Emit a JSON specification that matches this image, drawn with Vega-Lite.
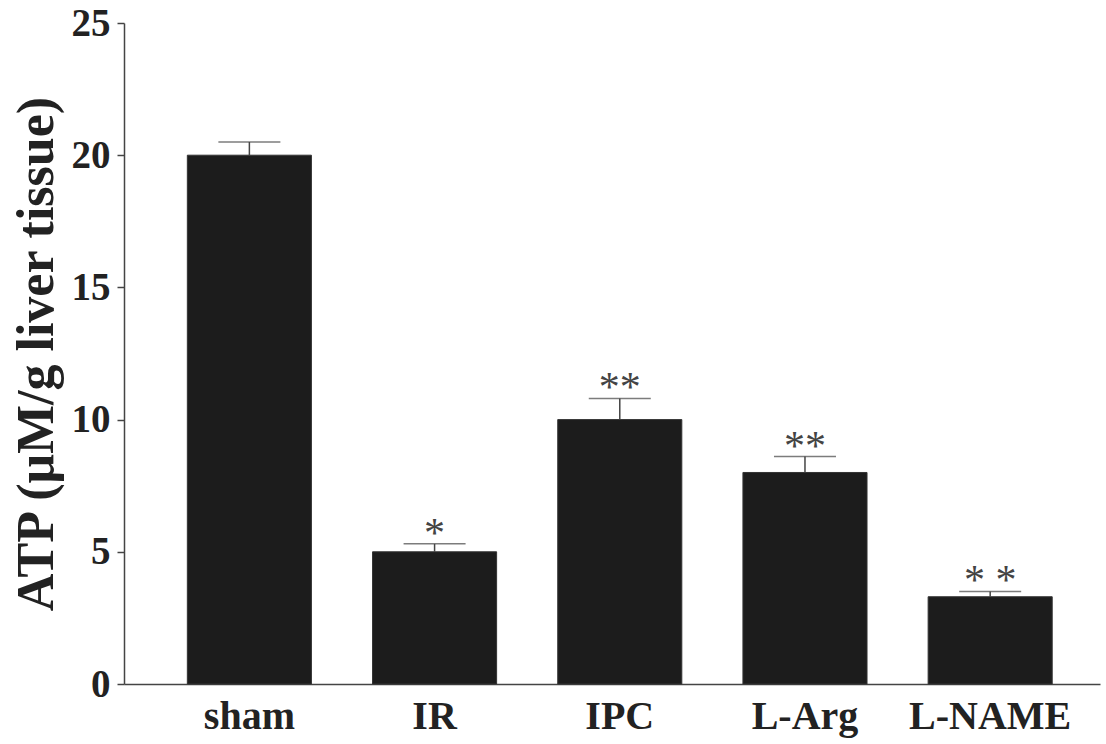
{
  "$schema": "https://vega.github.io/schema/vega-lite/v6.json",
  "autosize": {"type": "none"},
  "width": 976,
  "height": 661,
  "padding": {"left": 124, "top": 23, "right": 6, "bottom": 60},
  "background": "white",
  "config": {
    "font": "Liberation Serif",
    "view": {"stroke": null}
  },
  "data": {
    "values": [
      {"group": "sham", "atp": 20.0, "upper": 20.5, "sig": ""},
      {"group": "IR", "atp": 5.0, "upper": 5.3, "sig": "*"},
      {"group": "IPC", "atp": 10.0, "upper": 10.8, "sig": "**"},
      {"group": "L-Arg", "atp": 8.0, "upper": 8.6, "sig": "**"},
      {"group": "L-NAME", "atp": 3.3, "upper": 3.5, "sig": "* *"}
    ]
  },
  "encoding": {
    "x": {
      "field": "group",
      "type": "nominal",
      "sort": null,
      "scale": {"paddingInner": 0.33, "paddingOuter": 0.3, "align": 0.57},
      "axis": {
        "title": null,
        "labelAngle": 0,
        "labelFontSize": 40,
        "labelFontWeight": "bold",
        "labelColor": "#222",
        "labelPadding": 12,
        "ticks": false,
        "domainColor": "#444",
        "domainWidth": 1.5
      }
    }
  },
  "layer": [
    {
      "mark": {"type": "bar", "color": "#1c1c1c", "stroke": "#333", "strokeWidth": 1},
      "encoding": {
        "y": {
          "field": "atp",
          "type": "quantitative",
          "scale": {"domain": [0, 25], "nice": false},
          "axis": {
            "title": "ATP (μM/g liver tissue)",
            "titleFontSize": 52,
            "titleFontWeight": "bold",
            "titleColor": "#222",
            "titleBaseline": "alphabetic",
            "titleX": -72,
            "values": [0, 5, 10, 15, 20, 25],
            "labelFontSize": 39,
            "labelFontWeight": "bold",
            "labelColor": "#222",
            "labelPadding": 7,
            "tickSize": 7,
            "tickColor": "#444",
            "tickWidth": 1.5,
            "domainColor": "#444",
            "domainWidth": 1.5,
            "grid": false
          }
        }
      }
    },
    {
      "mark": {"type": "rule", "color": "#444", "strokeWidth": 1.5},
      "encoding": {
        "y": {"field": "atp", "type": "quantitative"},
        "y2": {"field": "upper"}
      }
    },
    {
      "mark": {"type": "tick", "color": "#444", "size": 62, "thickness": 1.5},
      "encoding": {
        "y": {"field": "upper", "type": "quantitative"}
      }
    },
    {
      "mark": {"type": "text", "fontSize": 42, "color": "#444", "baseline": "alphabetic", "dy": 3},
      "encoding": {
        "y": {"field": "upper", "type": "quantitative"},
        "text": {"field": "sig"}
      }
    }
  ]
}
